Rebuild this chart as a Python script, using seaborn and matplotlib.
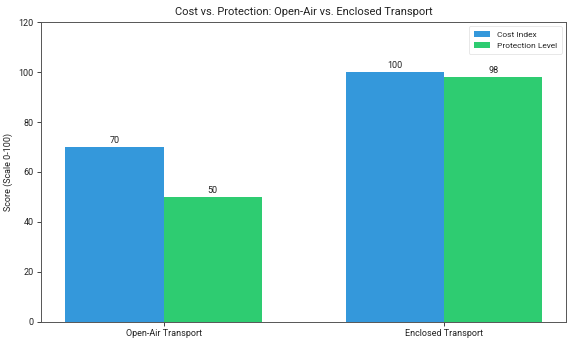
import matplotlib
matplotlib.use("Agg")
import matplotlib.pyplot as plt
import seaborn as sns
import pandas as pd

categories = ["Open-Air Transport", "Enclosed Transport"]
cost_index = [70, 100]
protection_level = [50, 98]
series_names = ["Cost Index", "Protection Level"]
colors = ["#3498db", "#2ecc71"]

df = pd.DataFrame({
    "Transport": categories * 2,
    "Series": [series_names[0]] * 2 + [series_names[1]] * 2,
    "Score": cost_index + protection_level,
})

sns.set_style("white")
plt.rcParams["font.family"] = ["Roboto", "DejaVu Sans"]

fig, ax = plt.subplots(figsize=(5.76, 3.46), dpi=100)
sns.barplot(data=df, x="Transport", y="Score", hue="Series", palette=colors,
            width=0.7, gap=0, ax=ax, saturation=1, errorbar=None, linewidth=0)

for c in ax.containers:
    ax.bar_label(c, fmt="%d", fontsize=6.5, padding=1.5, color="#222222")

ax.set_xlim(-0.435, 1.435)
ax.set_ylim(0, 120)
ax.set_yticks([0, 20, 40, 60, 80, 100, 120])
ax.set_title("Cost vs. Protection: Open-Air vs. Enclosed Transport", fontsize=8, color="#222222", pad=5)
ax.set_ylabel("Score (Scale 0-100)", fontsize=6.5, color="#222222", labelpad=4)
ax.set_xlabel("")
ax.tick_params(axis="both", labelsize=6.5, colors="#222222", length=3, width=0.6, pad=2.5)
ax.tick_params(axis="both", which="both", direction="out", left=True, bottom=True)
for s in ax.spines.values():
    s.set_color("#555555")
    s.set_linewidth(0.7)

leg = ax.legend(loc="upper right", fontsize=6, frameon=True, title=None,
                handlelength=2.0, borderpad=0.6, labelspacing=0.5)
leg.get_frame().set_edgecolor("#dddddd")
leg.get_frame().set_linewidth(0.6)

fig.subplots_adjust(left=0.072, right=0.983, top=0.936, bottom=0.07)
fig.savefig("out.png", dpi=100)
